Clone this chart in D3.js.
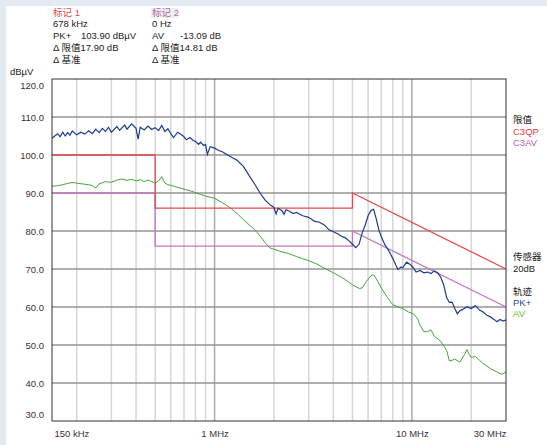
<!DOCTYPE html>
<html>
<head>
<meta charset="utf-8">
<script src="https://cdn.jsdelivr.net/npm/d3@7"></script>
<style>
    body { margin: 0; background: #e4eaf1; }
    svg { display: block; font-family: "Liberation Sans", Arial, "Noto Sans CJK SC", sans-serif; }
</style>
</head>
<body>
<svg id="chart" width="547" height="445"></svg>
<script>
// frequencies in MHz, levels in dBµV
const pkFreq = [0.15, 0.16, 0.165, 0.17, 0.175, 0.18, 0.185, 0.19, 0.2, 0.21, 0.22, 0.23, 0.24, 0.25, 0.26, 0.27, 0.28, 0.29, 0.3,
    0.32, 0.33, 0.35, 0.36, 0.38, 0.4, 0.41, 0.42, 0.44, 0.46, 0.48, 0.5, 0.52, 0.54, 0.56, 0.58, 0.6, 0.62, 0.65, 0.68,
    0.7, 0.72, 0.75, 0.78, 0.8, 0.83, 0.85, 0.88, 0.9, 0.92, 0.95, 1.0, 1.05, 1.1, 1.2, 1.3, 1.4, 1.5, 1.6, 1.7, 1.8, 1.9,
    2.0, 2.05, 2.1, 2.2, 2.25, 2.3, 2.4, 2.5, 2.6, 2.8, 3.0, 3.2, 3.4, 3.6, 3.8, 4.0, 4.2, 4.4, 4.6, 4.8, 5.0, 5.2, 5.4,
    5.6, 5.8, 6.0, 6.2, 6.4, 6.6, 6.8, 7.0, 7.3, 7.6, 8.0, 8.3, 8.5, 8.8, 9.0, 9.4, 9.8, 10.2, 10.5, 11, 11.5, 12, 12.5,
    13, 13.5, 14, 14.5, 15, 15.5, 16, 16.5, 17, 17.5, 18, 19, 20, 21, 22, 23, 24, 25, 26, 27, 28, 29, 30];
const pkLevel = [104.4, 105.6, 104.8, 106.0, 105.0, 105.9, 105.2, 106.3, 105.3, 106.0, 105.5, 106.4, 105.6, 106.8, 105.9, 107.0, 106.2, 107.3, 106.0,
    107.5, 106.5, 107.9, 106.8, 108.2, 107.0, 104.2, 107.3, 106.6, 107.6, 106.7, 107.2, 106.4, 107.8, 106.2, 106.9, 105.6, 104.6, 106.0, 105.3,
    104.8, 104.0, 104.6, 103.8, 103.6, 102.8, 103.4, 102.5, 102.8, 100.2, 102.2, 101.8, 101.2, 100.8, 99.6, 98.6, 97.0, 94.5, 92.3, 90.0, 88.2, 87.0,
    86.2, 84.5, 86.0, 85.3, 84.4, 85.6, 85.2, 84.6, 84.9, 84.0, 83.6, 82.6, 82.3, 81.6, 80.3, 79.8, 79.3, 78.6, 78.2, 77.4, 76.5, 75.6, 76.5,
    79.5, 81.5, 84.0, 85.4, 85.7, 83.2, 80.3, 78.5, 76.4, 75.0, 72.8, 71.0, 69.9, 70.5, 70.4, 71.8, 71.2, 70.2, 69.2, 69.6, 69.0, 69.2, 68.8,
    69.5, 69.0, 67.9, 65.8, 62.5, 61.2, 61.3, 59.6, 58.2, 59.0, 59.3, 60.0, 59.6, 60.4, 59.2, 58.7, 57.8, 57.4, 56.8, 56.1, 56.7, 56.3, 56.6];

const avFreq = [0.15, 0.16, 0.17, 0.18, 0.19, 0.2, 0.22, 0.24, 0.25, 0.26, 0.28, 0.3, 0.32, 0.34, 0.36, 0.38, 0.4, 0.42, 0.44,
    0.46, 0.48, 0.5, 0.52, 0.54, 0.56, 0.58, 0.62, 0.65, 0.7, 0.75, 0.8, 0.85, 0.9, 1.0, 1.1, 1.2, 1.3, 1.4, 1.5, 1.6,
    1.7, 1.8, 1.9, 2.0, 2.2, 2.4, 2.6, 2.8, 3.0, 3.3, 3.6, 4.0, 4.3, 4.6, 5.0, 5.4, 5.6, 5.9, 6.2, 6.4, 6.7, 7.0, 7.5,
    8.0, 8.5, 9.0, 9.6, 10.2, 10.7, 11, 11.5, 12, 12.5, 13, 14, 14.5, 15, 15.5, 16, 16.5, 17.5, 18.5, 19, 19.5, 20,
    21, 22, 23, 25, 27, 28.5, 30];
const avLevel = [91.8, 91.9, 92.2, 92.5, 92.8, 92.6, 92.3, 92.0, 91.3, 92.4, 93.0, 92.8, 93.4, 93.7, 93.3, 93.6, 93.2, 93.5, 93.0,
    93.4, 93.0, 92.6, 93.2, 94.3, 92.6, 92.2, 91.8, 91.5, 91.0, 90.6, 90.1, 89.6, 89.2, 88.6, 87.4, 86.1, 84.6, 83.0, 81.6, 80.3,
    78.7, 77.0, 75.6, 75.2, 74.5, 74.0, 73.3, 72.7, 72.2, 71.3, 70.2, 69.0, 68.1, 67.2, 65.8, 64.9, 65.0, 66.8, 68.2, 68.5, 66.8, 65.0, 62.6,
    60.6, 60.0, 59.6, 58.7, 58.2, 56.9, 55.2, 53.5, 53.5, 54.0, 52.3, 51.0, 49.8, 48.6, 45.8, 46.0, 46.3, 45.5, 47.5, 48.8, 47.6, 46.7,
    47.0, 46.0, 45.1, 43.8, 42.9, 42.3, 42.9];

// limit lines (C3QP / C3AV)
const limitFreq = [0.15, 0.5, 0.5, 5, 5, 30];
const qpLimit = [100, 100, 86, 86, 90, 70];
const avLimit = [90, 90, 76, 76, 80, 60];

const yTicks = [30, 40, 50, 60, 70, 80, 90, 100, 110, 120];
const xTicks = [0.15, 1, 10, 30];
const xTickLabels = ["150 kHz", "1 MHz", "10 MHz", "30 MHz"];
const minorGrid = [0.2, 0.3, 0.4, 0.5, 0.6, 0.7, 0.8, 0.9, 2, 3, 4, 5, 6, 7, 8, 9, 20];
const majorGrid = [1, 10];

const svg = d3.select("#chart");
const margin = { left: 52, right: 41, top: 79, bottom: 24 };
const W = +svg.attr("width"), H = +svg.attr("height");

// page panel
svg.append("rect").attr("width", W).attr("height", H).attr("fill", "#e4eaf1");
svg.append("rect").attr("x", 6).attr("y", 6).attr("width", W - 6).attr("height", H - 6).attr("fill", "#fff");

const x = d3.scaleLog().domain([0.15, 30]).range([margin.left, W - margin.right]);
const y = d3.scaleLinear().domain([30, 120]).range([H - margin.bottom, margin.top]);

// grid
svg.append("g").selectAll("line")
    .data(minorGrid)
    .enter().append("line")
    .attr("x1", d => x(d)).attr("x2", d => x(d))
    .attr("y1", y(30)).attr("y2", y(120))
    .attr("stroke", "#d6d6d6").attr("stroke-width", 1.5);

svg.append("g").selectAll("line")
    .data(majorGrid)
    .enter().append("line")
    .attr("x1", d => x(d)).attr("x2", d => x(d))
    .attr("y1", y(30)).attr("y2", y(120))
    .attr("stroke", "#ababab").attr("stroke-width", 1.5);

svg.append("g").selectAll("line")
    .data(yTicks.slice(1, -1))
    .enter().append("line")
    .attr("x1", x(0.15)).attr("x2", x(30))
    .attr("y1", d => y(d)).attr("y2", d => y(d))
    .attr("stroke", "#949494").attr("stroke-width", 1.3);

// limits
const line = d3.line().x(d => x(d[0])).y(d => y(d[1]));
svg.append("path")
    .datum(d3.zip(limitFreq, avLimit))
    .attr("d", line).attr("fill", "none")
    .attr("stroke", "#c078c0").attr("stroke-width", 1.3);
svg.append("path")
    .datum(d3.zip(limitFreq, qpLimit))
    .attr("d", line).attr("fill", "none")
    .attr("stroke", "#e8484c").attr("stroke-width", 1.3);

// traces
svg.append("path")
    .datum(d3.zip(avFreq, avLevel))
    .attr("d", line).attr("fill", "none")
    .attr("stroke", "#46a43c").attr("stroke-width", 1);
svg.append("path")
    .datum(d3.zip(pkFreq, pkLevel))
    .attr("d", line).attr("fill", "none")
    .attr("stroke", "#1c3a8e").attr("stroke-width", 1.2);

// frame
svg.append("rect")
    .attr("x", x(0.15)).attr("y", y(120))
    .attr("width", x(30) - x(0.15)).attr("height", y(30) - y(120))
    .attr("fill", "none").attr("stroke", "#333").attr("stroke-width", 1);

// axes
const yAxis = svg.append("g")
    .attr("transform", `translate(${margin.left},0)`)
    .call(d3.axisLeft(y).tickValues(yTicks).tickFormat(d => d.toFixed(1)).tickSize(0).tickPadding(8));
yAxis.select(".domain").remove();
yAxis.selectAll("text")
    .attr("dy", d => d === 120 ? "1.05em" : d === 30 ? "-0.42em" : "0.32em")
    .attr("fill", "#333").style("font-size", "9.5px").style("font-family", "Liberation Sans, Arial");

const xAxis = svg.append("g")
    .attr("transform", `translate(0,${y(30)})`)
    .call(d3.axisBottom(x).tickValues(xTicks).tickFormat((d, i) => xTickLabels[i]).tickSize(0).tickPadding(9));
xAxis.select(".domain").remove();
xAxis.selectAll("text")
    .attr("text-anchor", (d, i) => i === 0 ? "start" : i === 3 ? "end" : "middle")
    .attr("dx", (d, i) => i === 0 ? 2 : 0)
    .attr("fill", "#333").style("font-size", "9.5px").style("font-family", "Liberation Sans, Arial");

// header / marker info
const txt = (tx, ty, s, color) => svg.append("text")
    .attr("x", tx).attr("y", ty).attr("dy", "0.35em")
    .attr("fill", color || "#222").style("font-size", "9.5px")
    .text(s);

svg.append("rect").attr("x", 151).attr("y", 8).attr("width", 27).attr("height", 10).attr("fill", "#eeeeee");
txt(53, 13, "标记 1", "#e04848");
txt(53, 24, "678 kHz");
txt(53, 36, "PK+");
txt(81, 36, "103.90 dBµV");
txt(53, 48, "Δ 限值17.90 dB");
txt(53, 60, "Δ 基准");
txt(152, 13, "标记 2", "#b06aa8");
txt(152, 24, "0 Hz");
txt(152, 36, "AV");
txt(180, 36, "-13.09 dB");
txt(152, 48, "Δ 限值14.81 dB");
txt(152, 60, "Δ 基准");
txt(10, 72, "dBµV");

// right legend
txt(513, 120, "限值");
txt(513, 132, "C3QP", "#e03c3c");
txt(513, 143, "C3AV", "#b460b4");
txt(513, 257, "传感器");
txt(513, 269, "20dB");
txt(513, 292, "轨迹");
txt(513, 303, "PK+", "#2444a4");
txt(513, 314, "AV", "#6cbc30");
</script>
</body>
</html>
